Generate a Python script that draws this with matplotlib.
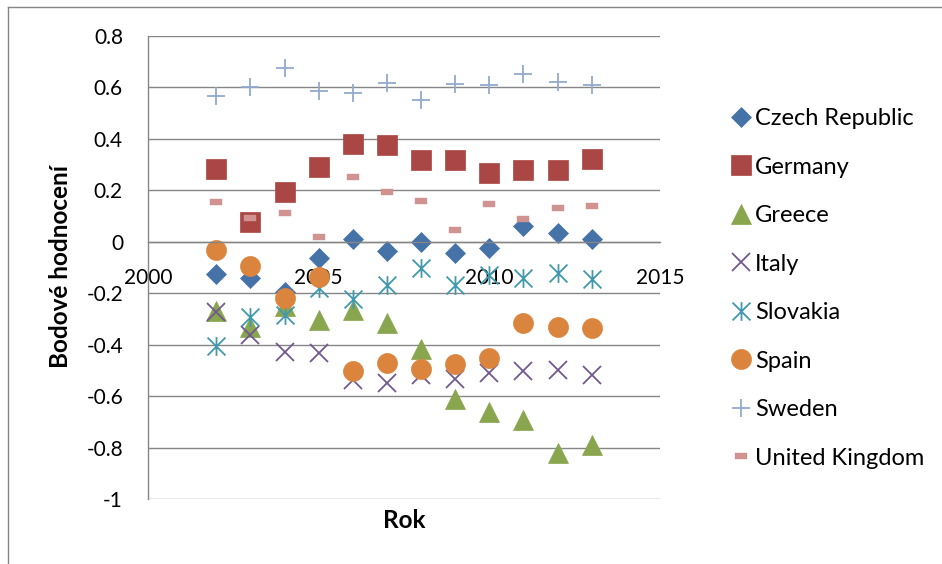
import matplotlib
matplotlib.use("Agg")
import matplotlib.pyplot as plt
from matplotlib.path import Path
from matplotlib.lines import Line2D

plt.rcParams['font.family'] = ['Lato', 'DejaVu Sans']

years = [2002, 2003, 2004, 2005, 2006, 2007, 2008, 2009, 2010, 2011, 2012, 2013]

czech = [-0.125, -0.142, -0.194, -0.064, 0.010, -0.034, 0.000, -0.044, -0.026, 0.062, 0.034, 0.010]
germany = [0.283, 0.077, 0.192, 0.290, 0.382, 0.378, 0.318, 0.316, 0.268, 0.280, 0.280, 0.322]
greece = [-0.269, -0.330, -0.250, -0.304, -0.265, -0.317, -0.415, -0.613, -0.661, -0.691, -0.820, -0.791]
italy = [-0.272, -0.363, -0.428, -0.434, -0.538, -0.548, -0.519, -0.532, -0.509, -0.502, -0.499, -0.516]
slovakia = [-0.405, -0.294, -0.285, -0.181, -0.224, -0.168, -0.103, -0.168, -0.129, -0.142, -0.122, -0.146]
spain = [-0.031, -0.094, -0.220, -0.135, -0.503, -0.470, -0.493, -0.477, -0.451, -0.316, -0.331, -0.334]
sweden = [0.566, 0.602, 0.677, 0.586, 0.577, 0.619, 0.551, 0.612, 0.610, 0.651, 0.623, 0.610]
uk = [0.155, 0.091, 0.112, 0.018, 0.251, 0.195, 0.160, 0.046, 0.148, 0.087, 0.131, 0.138]

series_names = ["Czech Republic", "Germany", "Greece", "Italy", "Slovakia", "Spain", "Sweden", "United Kingdom"]
x_ticks = [2000, 2005, 2010, 2015]
y_ticks = [-1, -0.8, -0.6, -0.4, -0.2, 0, 0.2, 0.4, 0.6, 0.8]
y_tick_labels = ["-1", "-0.8", "-0.6", "-0.4", "-0.2", "0", "0.2", "0.4", "0.6", "0.8"]

# custom markers
asterisk = Path([(-1, -1), (1, 1), (-1, 1), (1, -1), (0, -1.05), (0, 1.05)],
                [Path.MOVETO, Path.LINETO, Path.MOVETO, Path.LINETO, Path.MOVETO, Path.LINETO])
dash = Path([(-1, -0.45), (1, -0.45), (1, 0.45), (-1, 0.45), (-1, -0.45)],
            [Path.MOVETO, Path.LINETO, Path.LINETO, Path.LINETO, Path.CLOSEPOLY])

styles = [
    dict(marker='D', ms=10.2, color='#4572A7', mfc='#4572A7', mec='#4572A7', mew=0.5),
    dict(marker='s', ms=14, color='#AA4643', mfc='#AA4643', mec='#AA4643', mew=0.5),
    dict(marker='^', ms=14.5, color='#89A54E', mfc='#89A54E', mec='#89A54E', mew=0.5),
    dict(marker='x', ms=13.5, color='#71588F', mec='#71588F', mew=1.3),
    dict(marker=asterisk, ms=13.5, color='#4198AF', mfc='none', mec='#4198AF', mew=1.3),
    dict(marker='o', ms=14.4, color='#DB843D', mfc='#DB843D', mec='#DB843D', mew=0.5),
    dict(marker='+', ms=13.2, color='#93A9CF', mec='#93A9CF', mew=1.3),
    dict(marker=dash, ms=8.4, color='#D19392', mfc='#D19392', mec='#D19392', mew=0.3),
]
data = [czech, germany, greece, italy, slovakia, spain, sweden, uk]

fig = plt.figure(figsize=(9.42, 5.64), dpi=100)
ax = fig.add_axes([148/942, 1-499/564, (660-148)/942, (499-36)/564])

handles = []
for name, vals, st in zip(series_names, data, styles):
    h, = ax.plot(years, vals, linestyle='none', label=name, **st)
    handles.append(h)

ax.set_xlim(2000, 2015)
ax.set_ylim(-1, 0.8)
ax.set_yticks(y_ticks)
ax.set_yticklabels(y_tick_labels)
ax.set_xticks(x_ticks)
ax.set_xticklabels([str(t) for t in x_ticks])

gray = '#868686'
ax.yaxis.grid(True, color=gray, linewidth=1.0)
ax.set_axisbelow(True)
for s in ['top', 'right']:
    ax.spines[s].set_visible(False)
ax.spines['left'].set_color(gray)
ax.spines['left'].set_linewidth(1.0)
ax.spines['bottom'].set_position(('data', 0))
ax.spines['bottom'].set_color(gray)
ax.spines['bottom'].set_linewidth(1.0)
ax.tick_params(axis='x', length=0, pad=19, labelsize=15)
ax.tick_params(axis='y', length=0, pad=18, labelsize=15)

fig.text(60/942, 1-266/564, "Bodové hodnocení", rotation=90, ha='center', va='center',
         fontsize=17.5, fontweight='bold')
fig.text(404/942, 1-521/564, "Rok", ha='center', va='center', fontsize=17.5, fontweight='bold')

fig.legend(handles=handles, loc='upper left', bbox_to_anchor=(729/942, 1-108/564),
           frameon=False, fontsize=17, handlelength=1.0, handletextpad=0.1,
           labelspacing=1.165, numpoints=1, borderpad=0, borderaxespad=0)

# outer chart border
fig.add_artist(Line2D([8/942, 1.0], [1-7/564, 1-7/564], color=gray, linewidth=1.0))
fig.add_artist(Line2D([8/942, 8/942], [0, 1-7/564], color=gray, linewidth=1.0))

fig.savefig("out.png", dpi=100)
